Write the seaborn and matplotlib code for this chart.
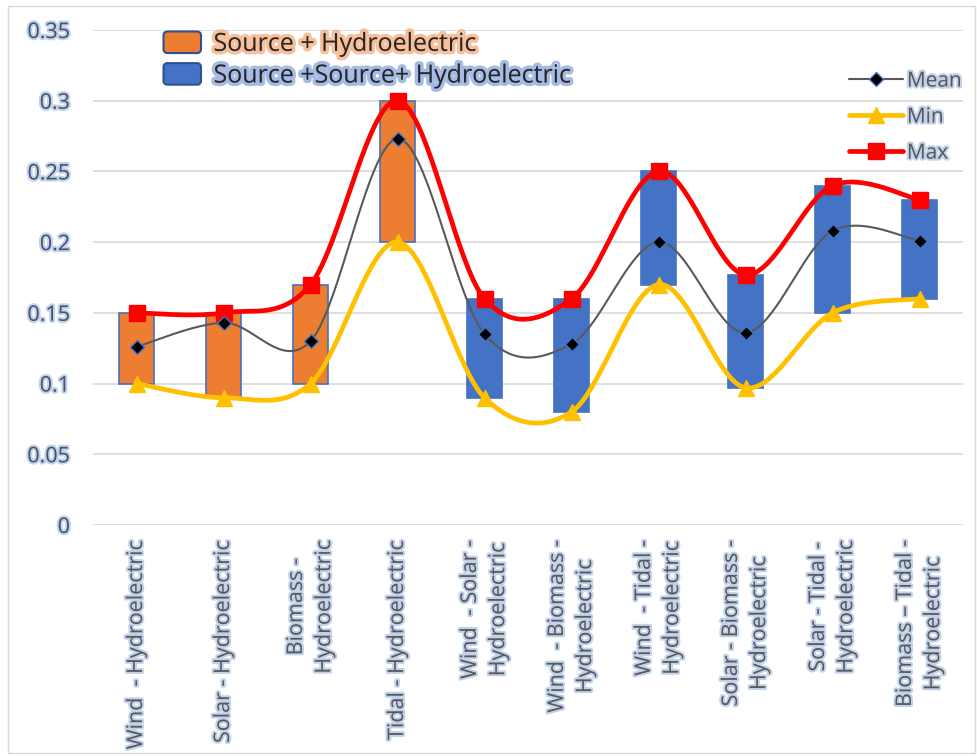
import numpy as np
import pandas as pd
import seaborn as sns
import matplotlib.pyplot as plt
import matplotlib.patheffects as pe
from matplotlib.patches import Patch, FancyBboxPatch, Rectangle
from matplotlib.lines import Line2D
from matplotlib.legend_handler import HandlerPatch

categories = ["Wind  - Hydroelectric", "Solar - Hydroelectric", "Biomass -\nHydroelectric",
              "Tidal - Hydroelectric", "Wind  - Solar -\nHydroelectric", "Wind  - Biomass -\nHydroelectric",
              "Wind  - Tidal -\nHydroelectric", "Solar - Biomass -\nHydroelectric",
              "Solar - Tidal -\nHydroelectric", "Biomass \u2013 Tidal -\nHydroelectric"]
groups = ["Source + Hydroelectric"] * 4 + ["Source +Source+ Hydroelectric"] * 6
mean_vals = [0.126, 0.143, 0.130, 0.273, 0.135, 0.128, 0.200, 0.136, 0.208, 0.201]
min_vals = [0.10, 0.09, 0.10, 0.20, 0.09, 0.08, 0.17, 0.097, 0.15, 0.16]
max_vals = [0.15, 0.15, 0.17, 0.30, 0.16, 0.16, 0.25, 0.177, 0.24, 0.23]

group_colors = {"Source + Hydroelectric": "#ED7D31", "Source +Source+ Hydroelectric": "#4472C4"}


def smooth(y, n=40):
    # Catmull-Rom curve through the points, like Excel's smoothed line
    y = np.asarray(y, float)
    x = np.arange(len(y), dtype=float)
    px = np.concatenate([[x[0]], x, [x[-1]]])
    py = np.concatenate([[y[0]], y, [y[-1]]])
    xs, ys = [], []
    t = np.linspace(0, 1, n)
    for i in range(1, len(px) - 2):
        p0x, p1x, p2x, p3x = px[i - 1:i + 3]
        p0y, p1y, p2y, p3y = py[i - 1:i + 3]
        c1x, c1y = p1x + (p2x - p0x) / 6, p1y + (p2y - p0y) / 6
        c2x, c2y = p2x - (p3x - p1x) / 6, p2y - (p3y - p1y) / 6
        bx = (1 - t) ** 3 * p1x + 3 * (1 - t) ** 2 * t * c1x + 3 * (1 - t) * t ** 2 * c2x + t ** 3 * p2x
        by = (1 - t) ** 3 * p1y + 3 * (1 - t) ** 2 * t * c1y + 3 * (1 - t) * t ** 2 * c2y + t ** 3 * p2y
        xs.extend(bx)
        ys.extend(by)
    return np.array(xs), np.array(ys)


df = pd.DataFrame({"cat": categories, "group": groups, "Mean": mean_vals,
                   "Min": min_vals, "Max": max_vals})
df["x"] = np.arange(len(df))

sns.set_style("white")
plt.rcParams["font.family"] = ["Open Sans", "DejaVu Sans"]

fig = plt.figure(figsize=(9.77, 7.56), dpi=100)
ax = fig.add_axes([0.0952, 0.3056, 0.8905, 0.6547])
fig.patches.append(Rectangle((0.008, 0.004), 0.99, 0.988, transform=fig.transFigure,
                             fill=False, edgecolor="#D9D9D9", lw=1))

ax.set_ylim(0, 0.35)
ax.set_xlim(-0.5, len(df) - 0.5)
ax.set_yticks(np.arange(0, 0.351, 0.05))
ax.yaxis.grid(True, color="#D9D9D9", lw=1.2)
ax.set_axisbelow(True)
for s in ax.spines.values():
    s.set_visible(False)

ax.bar(df["x"], df["Max"] - df["Min"], bottom=df["Min"], width=0.40,
       color=[group_colors[g] for g in df["group"]], edgecolor="#4472C4", lw=1.2, zorder=2)

styles = {"Max": dict(color="#FF0000", lw=3.4, marker="s", ms=11, mec="#FF0000"),
          "Min": dict(color="#FFC000", lw=3.4, marker="^", ms=11, mec="#FFC000"),
          "Mean": dict(color="#595959", lw=1.5, marker="D", ms=7, mec="#4472C4")}
for col in ["Min", "Max", "Mean"]:
    st = styles[col]
    sx, sy = smooth(df[col])
    sns.lineplot(x=sx, y=sy, sort=False, color=st["color"], lw=st["lw"], ax=ax, zorder=3)
    ax.plot(df["x"], df[col], ls="none", marker=st["marker"], ms=st["ms"],
            mfc="black" if col == "Mean" else st["color"], mec=st["mec"], mew=1, zorder=4)

glow = [pe.withStroke(linewidth=3, foreground="#B4C7E7", alpha=0.8)]
ax.set_xticks(df["x"])
ax.set_xticklabels(df["cat"], rotation=90, ha="center", va="top", multialignment="center",
                   fontsize=15.5, color="#595959", linespacing=1.45)
ax.set_yticklabels(["0", "0.05", "0.1", "0.15", "0.2", "0.25", "0.3", "0.35"],
                   fontsize=15.5, color="#44546A")
ax.tick_params(axis="both", length=0)
ax.tick_params(axis="y", pad=16.5)
ax.tick_params(axis="x", pad=10.5)
for t in ax.get_xticklabels() + ax.get_yticklabels():
    t.set_path_effects(glow)
ax.set_xlabel("")
ax.set_ylabel("")


def rounded(legend, orig_handle, xdescent, ydescent, width, height, fontsize):
    return FancyBboxPatch((-xdescent, -ydescent), width, height,
                          boxstyle="round,pad=0,rounding_size=3")


bar_handles = [Patch(facecolor=c, edgecolor="#2F528F", lw=1.5) for c in group_colors.values()]
leg1 = ax.legend(bar_handles, list(group_colors.keys()), loc="upper left",
                 bbox_to_anchor=(146 / 977, 1 - 14 / 756), bbox_transform=fig.transFigure,
                 frameon=False, fontsize=18, handlelength=1.5, handleheight=0.95,
                 labelspacing=0.25, handletextpad=0.5, borderpad=0.2,
                 handler_map={Patch: HandlerPatch(patch_func=rounded)})
for t, c in zip(leg1.get_texts(), ["#F4B183", "#8FAADC"]):
    t.set_path_effects([pe.withStroke(linewidth=5, foreground=c, alpha=0.8)])
ax.add_artist(leg1)

line_handles = [Line2D([], [], color="#595959", lw=1.5, marker="D", ms=7, mfc="black", mec="#4472C4"),
                Line2D([], [], color="#FFC000", lw=3.4, marker="^", ms=11, mec="#FFC000"),
                Line2D([], [], color="#FF0000", lw=3.4, marker="s", ms=11, mec="#FF0000")]
leg2 = ax.legend(line_handles, ["Mean", "Min", "Max"], loc="upper left",
                 bbox_to_anchor=(834 / 977, 1 - 56 / 756), bbox_transform=fig.transFigure,
                 frameon=False, fontsize=15, handlelength=2.6, labelspacing=0.72,
                 handletextpad=0.2, borderpad=0.2)
for t in leg2.get_texts():
    t.set_color("#595959")
    t.set_path_effects(glow)

fig.savefig("out.png", dpi=100)
